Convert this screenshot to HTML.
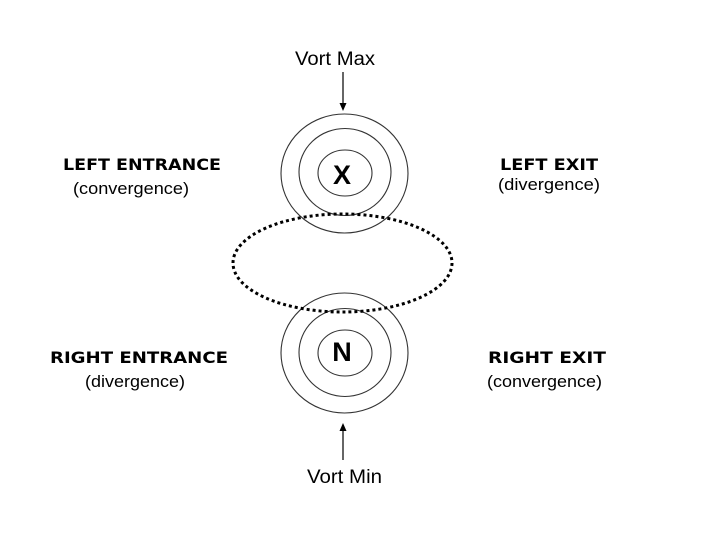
<!DOCTYPE html>
<html>
<head>
<meta charset="utf-8">
<style>
  html, body { margin: 0; padding: 0; background: #ffffff; }
  body { width: 720px; height: 540px; overflow: hidden; }
  svg { display: block; }
  .h { font-family: "DejaVu Sans", "Liberation Sans", sans-serif; font-weight: bold; font-size: 16px; fill: #000; }
  .r { font-family: "Liberation Sans", Arial, sans-serif; font-size: 17px; fill: #000; }
  .v { font-family: "Liberation Sans", Arial, sans-serif; font-size: 19px; fill: #000; }
  .b { font-family: "Liberation Sans", Arial, sans-serif; font-weight: bold; font-size: 27px; fill: #000; }
</style>
</head>
<body>
<svg width="720" height="540" viewBox="0 0 720 540" xmlns="http://www.w3.org/2000/svg">
  <rect x="0" y="0" width="720" height="540" fill="#ffffff"/>

  <!-- Top concentric circles -->
  <g fill="none" stroke="#333" stroke-width="1.1">
    <ellipse cx="344.5" cy="173.5" rx="63.5" ry="59.5"/>
    <ellipse cx="345" cy="172" rx="46" ry="43.5"/>
    <ellipse cx="345" cy="173" rx="27" ry="23"/>
  </g>
  <!-- Bottom concentric circles -->
  <g fill="none" stroke="#333" stroke-width="1.1">
    <ellipse cx="344.5" cy="353" rx="63.5" ry="60"/>
    <ellipse cx="345" cy="352.5" rx="46" ry="44"/>
    <ellipse cx="345" cy="353" rx="27" ry="23"/>
  </g>

  <!-- Dotted ellipse -->
  <ellipse cx="342.5" cy="263" rx="109.5" ry="49" fill="none" stroke="#000" stroke-width="3" stroke-dasharray="3 3"/>

  <!-- Letters -->
  <text class="b" x="342" y="184" text-anchor="middle">X</text>
  <text class="b" x="342" y="361" text-anchor="middle">N</text>

  <!-- Top arrow (pointing down) -->
  <line x1="343" y1="72" x2="343" y2="104" stroke="#000" stroke-width="1.2"/>
  <polygon points="339.5,103 346.5,103 343,111" fill="#000"/>

  <!-- Bottom arrow (pointing up) -->
  <line x1="343" y1="430" x2="343" y2="460" stroke="#000" stroke-width="1.2"/>
  <polygon points="339.5,431 346.5,431 343,423" fill="#000"/>

  <!-- Vort labels -->
  <text class="v" x="295" y="65" textLength="80" lengthAdjust="spacingAndGlyphs">Vort Max</text>
  <text class="v" x="307" y="483" textLength="75" lengthAdjust="spacingAndGlyphs">Vort Min</text>

  <!-- Left top -->
  <text class="h" x="63" y="170" textLength="158" lengthAdjust="spacingAndGlyphs">LEFT ENTRANCE</text>
  <text class="r" x="73" y="194" textLength="116" lengthAdjust="spacingAndGlyphs">(convergence)</text>

  <!-- Right top -->
  <text class="h" x="500" y="170" textLength="98" lengthAdjust="spacingAndGlyphs">LEFT EXIT</text>
  <text class="r" x="498" y="190" textLength="102" lengthAdjust="spacingAndGlyphs">(divergence)</text>

  <!-- Left bottom -->
  <text class="h" x="50" y="363" textLength="178" lengthAdjust="spacingAndGlyphs">RIGHT ENTRANCE</text>
  <text class="r" x="85" y="387" textLength="100" lengthAdjust="spacingAndGlyphs">(divergence)</text>

  <!-- Right bottom -->
  <text class="h" x="488" y="363" textLength="118" lengthAdjust="spacingAndGlyphs">RIGHT EXIT</text>
  <text class="r" x="487" y="387" textLength="115" lengthAdjust="spacingAndGlyphs">(convergence)</text>
</svg>
</body>
</html>
